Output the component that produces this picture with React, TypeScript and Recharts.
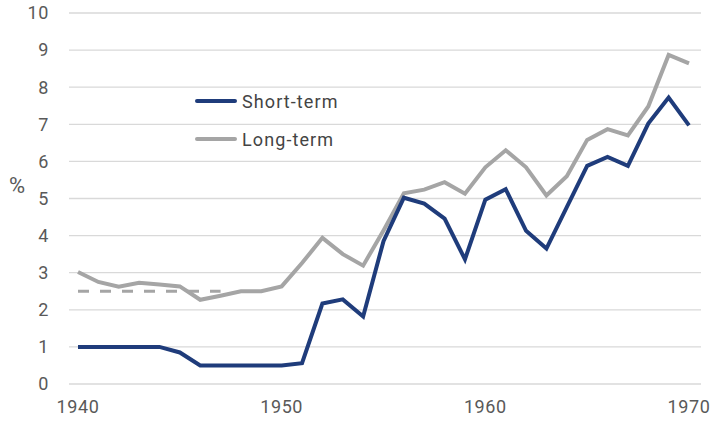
import React from "react";
import { LineChart, CartesianGrid, XAxis, YAxis, Line, Label } from "recharts";

const years = [
  1940, 1941, 1942, 1943, 1944, 1945, 1946, 1947, 1948, 1949,
  1950, 1951, 1952, 1953, 1954, 1955, 1956, 1957, 1958, 1959,
  1960, 1961, 1962, 1963, 1964, 1965, 1966, 1967, 1968, 1969, 1970,
];

const shortTerm = [
  1.0, 1.0, 1.0, 1.0, 1.0, 0.85, 0.5, 0.5, 0.5, 0.5,
  0.5, 0.56, 2.17, 2.28, 1.82, 3.85, 5.02, 4.86, 4.46, 3.36,
  4.97, 5.25, 4.13, 3.65, 4.77, 5.88, 6.12, 5.88, 7.02, 7.72, 6.97,
];

const longTerm = [
  3.02, 2.75, 2.62, 2.73, 2.68, 2.63, 2.27, 2.38, 2.5, 2.5,
  2.63, 3.26, 3.94, 3.5, 3.19, 4.14, 5.14, 5.24, 5.44, 5.13,
  5.84, 6.3, 5.84, 5.08, 5.6, 6.58, 6.87, 6.7, 7.48, 8.87, 8.64,
];

// dashed reference level, 1940-1947
const pegLevel = 2.5;
const pegEnd = 1947;

const xTicks = [1940, 1950, 1960, 1970];
const yTicks = [0, 1, 2, 3, 4, 5, 6, 7, 8, 9, 10];

const NAVY = "#1f3c7b";
const GREY = "#a5a5a5";
const FONT = "Roboto, 'DejaVu Sans', sans-serif";

const data = years.map((year, i) => ({
  year,
  short: shortTerm[i],
  long: longTerm[i],
  peg: year <= pegEnd ? pegLevel : null,
}));

const legendItems = [
  { name: "Short-term", color: NAVY },
  { name: "Long-term", color: GREY },
];

function ChartLegend() {
  return (
    <div style={{ position: "absolute", left: 195, top: 82, fontFamily: FONT }}>
      {legendItems.map((item) => (
        <div key={item.name} style={{ display: "flex", alignItems: "center", height: 38 }}>
          <svg width={42} height={6} style={{ marginRight: 5 }}>
            <line x1={2} y1={3} x2={40} y2={3} stroke={item.color} strokeWidth={4} strokeLinecap="round" />
          </svg>
          <span style={{ fontSize: 18, color: "#444", letterSpacing: 1.1 }}>{item.name}</span>
        </div>
      ))}
    </div>
  );
}

const tickStyle = { fill: "#595959", fontSize: 18, fontFamily: FONT, letterSpacing: 0.6 };

export default function App() {
  return (
    <div style={{ position: "absolute", left: 0, top: 0, width: 711, height: 424, background: "#fff" }}>
      <LineChart width={711} height={424} data={data} margin={{ top: 13, right: 10, left: 9, bottom: 10 }}>
        <CartesianGrid vertical={false} stroke="#d9d9d9" strokeWidth={1.3} />
        <XAxis
          dataKey="year"
          type="number"
          domain={[1940, 1970]}
          ticks={xTicks}
          padding={{ left: 9, right: 12 }}
          axisLine={false}
          tickLine={false}
          tickSize={0}
          tickMargin={16}
          height={30}
          tick={tickStyle}
        />
        <YAxis
          domain={[0, 10]}
          ticks={yTicks}
          interval={0}
          width={60}
          axisLine={false}
          tickLine={false}
          tickSize={0}
          tickMargin={20}
          tick={tickStyle}
        >
          <Label value="%" position="insideLeft" offset={0} dy={-13} fill="#595959" style={{ fontSize: 22, fontFamily: FONT }} />
        </YAxis>
        <Line
          dataKey="peg"
          stroke={GREY}
          strokeWidth={3}
          strokeDasharray="11 11"
          dot={false}
          isAnimationActive={false}
          connectNulls={false}
        />
        <Line
          dataKey="long"
          stroke={GREY}
          strokeWidth={4}
          dot={false}
          isAnimationActive={false}
        />
        <Line
          dataKey="short"
          stroke={NAVY}
          strokeWidth={4}
          dot={false}
          isAnimationActive={false}
        />
      </LineChart>
      <ChartLegend />
    </div>
  );
}
